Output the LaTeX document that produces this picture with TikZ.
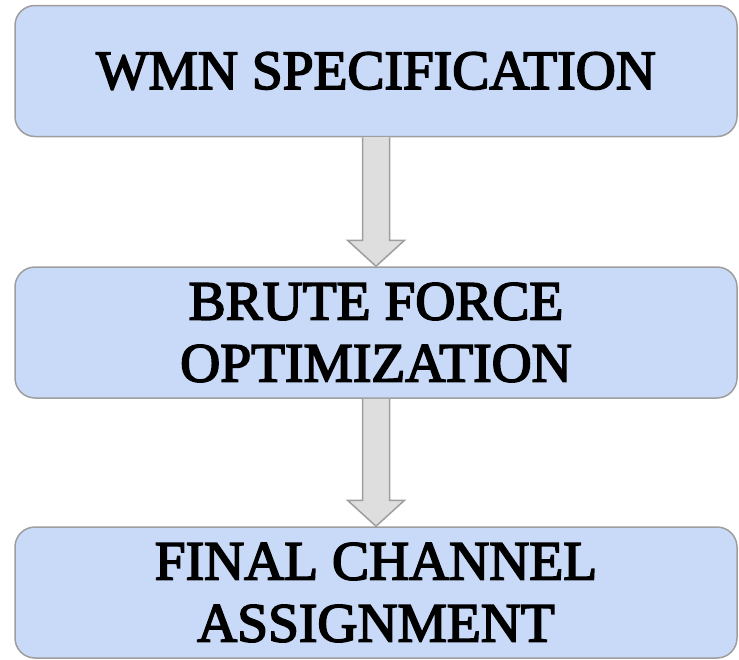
\documentclass[tikz,border=0pt]{standalone}
\usepackage{fontspec}
\setmainfont{Liberation Serif}
\newfontfamily\stagefont[FakeBold=3]{Liberation Serif}
\usetikzlibrary{calc}

\definecolor{boxfill}{RGB}{201,218,248}
\definecolor{boxline}{RGB}{158,158,158}
\definecolor{arrfill}{RGB}{222,222,222}

\tikzset{
    stage/.style={draw=boxline, fill=boxfill, line width=1.5pt, rounded corners=20pt,
        minimum width=722pt, minimum height=131pt, inner sep=0pt, align=center,
        font=\stagefont\fontsize{55.5}{62}\selectfont},
    flow/.style={draw=boxline, fill=arrfill, line width=1.5pt, line join=miter}
}

\begin{document}
\begin{tikzpicture}[x=1pt, y=-1pt]

    % Frame
    \def\xc{376}
    \def\sw{13.5}   % half shaft width
    \def\hw{28.5}   % half head width
    \def\hl{26}     % head length
    \useasboundingbox (0,0) rectangle (739,659);

    % Boxes
    \node[stage] (spec) at (\xc, 71)    {WMN SPECIFICATION};
    \node[stage] (opt)  at (\xc, 332.5) {BRUTE FORCE\\OPTIMIZATION};
    \node[stage] (fca)  at (\xc, 592.5) {FINAL CHANNEL\\ASSIGNMENT};

    % Arrows
    \foreach \a/\b in {spec/opt, opt/fca}{
        \filldraw[flow] let \p1=(\a.south), \p2=(\b.north) in
            (\x1-\sw pt,\y1) -- (\x1-\sw pt,\y2+\hl pt) -- (\x1-\hw pt,\y2+\hl pt)
            -- (\x1,\y2) -- (\x1+\hw pt,\y2+\hl pt) -- (\x1+\sw pt,\y2+\hl pt)
            -- (\x1+\sw pt,\y1);
    }

\end{tikzpicture}
\end{document}
